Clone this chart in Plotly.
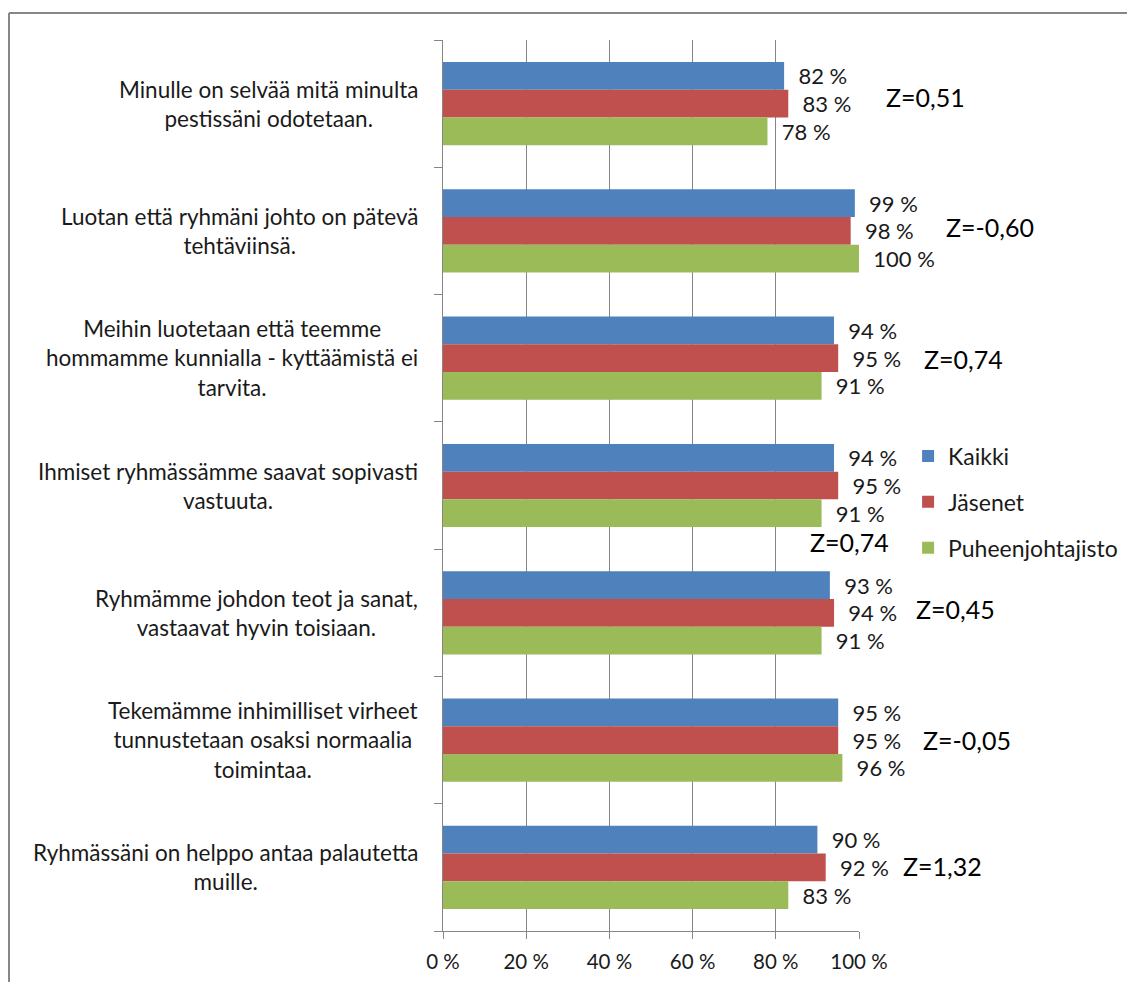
import plotly.graph_objects as go

categories = [
    "Minulle on selvää mitä minulta<br>pestissäni odotetaan.",
    "Luotan että ryhmäni johto on pätevä<br>tehtäviinsä.",
    "Meihin luotetaan että teemme<br>hommamme kunnialla - kyttäämistä ei<br>tarvita.",
    "Ihmiset ryhmässämme saavat sopivasti<br>vastuuta.",
    "Ryhmämme johdon teot ja sanat,<br>vastaavat hyvin toisiaan.",
    "Tekemämme inhimilliset virheet<br>tunnustetaan osaksi normaalia<br>toimintaa.",
    "Ryhmässäni on helppo antaa palautetta<br>muille.",
]
kaikki = [82, 99, 94, 94, 93, 95, 90]
jasenet = [83, 98, 95, 95, 94, 95, 92]
puheenjohtajisto = [78, 100, 91, 91, 91, 96, 83]
series_names = ["Kaikki", "Jäsenet", "Puheenjohtajisto"]
series_colors = ["#4F81BD", "#C0504D", "#9BBB59"]

z_texts = ["Z=0,51", "Z=-0,60", "Z=0,74", "Z=0,74", "Z=0,45", "Z=-0,05", "Z=1,32"]
# annotation placement (x in axis %, y as category index + offset)
z_x = [115.9, 131.5, 125.2, 97.8, 123.1, 126.0, 120.0]
z_y = [-0.05, 0.97, 2.01, 3.44, 3.97, 5.0, 5.99]

x_tickvals = [0, 20, 40, 60, 80, 100]
x_ticktext = ["0 %", "20 %", "40 %", "60 %", "80 %", "100 %"]

FONT = "Lato"
TXT = "#1a1a1a"
GRID = "#868686"

fig = go.Figure()
ids = list(range(len(categories)))
for name, vals, col in zip(series_names, [kaikki, jasenet, puheenjohtajisto], series_colors):
    fig.add_trace(go.Bar(
        y=ids, x=vals, name=name, orientation="h",
        marker=dict(color=col, line=dict(width=0)),
        text=vals, texttemplate="\u00a0\u00a0%{x:.0f} %", textposition="outside",
        textfont=dict(family=FONT, size=22, color=TXT),
        cliponaxis=False, constraintext="none", legendgroup=name,
    ))

annotations = []
for i, c in enumerate(categories):
    annotations.append(dict(
        x=-0.055, xref="paper", y=i, yref="y", text=c, showarrow=False,
        xanchor="right", yanchor="middle", align="center",
        font=dict(family=FONT, size=22.5, color=TXT),
    ))
for t, xx, yy in zip(z_texts, z_x, z_y):
    annotations.append(dict(
        x=xx / 100.0, xref="paper", y=yy, yref="y", text=t, showarrow=False,
        xanchor="center", yanchor="middle",
        font=dict(family=FONT, size=25, color="#000000"),
    ))

shapes = [
    dict(type="line", xref="paper", yref="paper", x0=(9 - 443) / 416, x1=(1127 - 443) / 416,
         y0=1 + (40 - 13) / 891, y1=1 + (40 - 13) / 891, line=dict(color="#878787", width=2)),
    dict(type="line", xref="paper", yref="paper", x0=(9 - 443) / 416, x1=(9 - 443) / 416,
         y0=1 + (40 - 13) / 891, y1=-(51 / 891), line=dict(color="#878787", width=2)),
]

fig.update_layout(
    width=1127, height=982,
    margin=dict(l=443, r=268, t=40, b=51, autoexpand=False),
    paper_bgcolor="white", plot_bgcolor="white",
    barmode="group", bargap=0.346, bargroupgap=0,
    font=dict(family=FONT, size=21, color=TXT),
    showlegend=True,
    legend=dict(x=1.118, xanchor="left", y=0.4815, yanchor="middle",
                font=dict(family=FONT, size=23, color=TXT),
                tracegroupgap=13, bgcolor="rgba(0,0,0,0)"),
    annotations=annotations,
    shapes=shapes,
    xaxis=dict(range=[0, 100], tickvals=x_tickvals, ticktext=x_ticktext,
               showgrid=True, gridcolor=GRID, gridwidth=1,
               showline=True, linecolor=GRID, linewidth=1,
               ticks="outside", ticklen=7, tickcolor=GRID,
               ticklabelstandoff=5, zeroline=False, automargin=False,
               tickfont=dict(family=FONT, size=20.5, color=TXT), fixedrange=True),
    yaxis=dict(type="linear", range=[len(categories) - 0.5, -0.5],
               tickvals=[i - 0.5 for i in range(len(categories) + 1)],
               showticklabels=False, showgrid=False, automargin=False,
               showline=True, linecolor=GRID, linewidth=1,
               ticks="outside", ticklen=8, tickcolor=GRID, zeroline=False),
)

fig.write_html("out.html")
